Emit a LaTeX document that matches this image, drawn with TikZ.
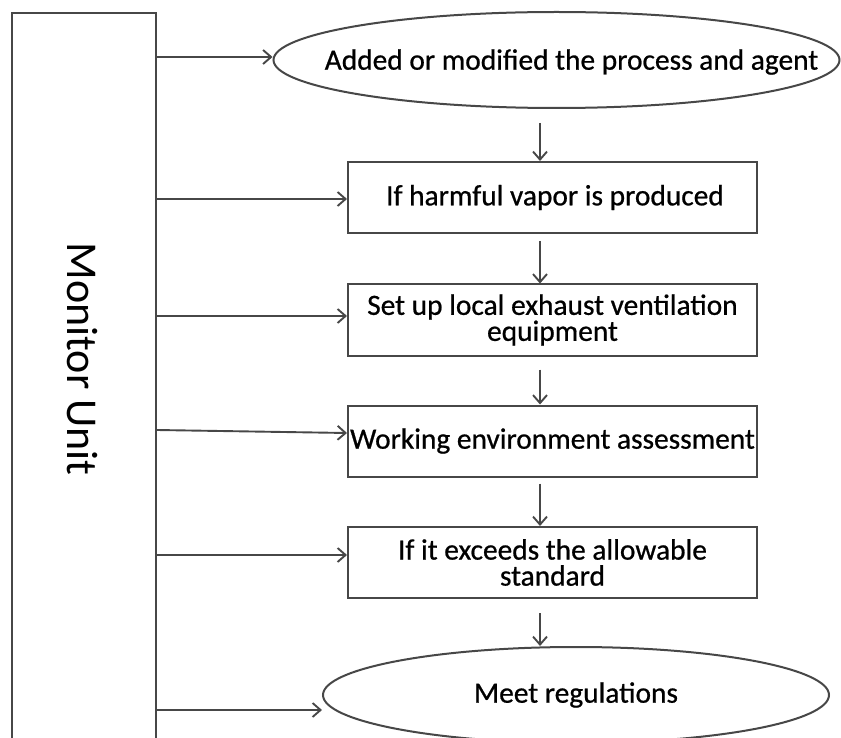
\documentclass[tikz,border=0pt]{standalone}
\usepackage{fontspec}
\setmainfont{Carlito}
\newfontfamily\stepfont{Carlito}[FakeBold=0.7]
\usetikzlibrary{shapes.geometric,arrows.meta,calc}
\begin{document}
\begin{tikzpicture}[x=1pt,y=-1pt,
  line/.style={draw=black!72, line width=2pt},
  flow/.style={draw=black!72, line width=1.9pt,
    -{Straight Barb[length=8pt,width=14pt,line width=1.9pt]}},
  txt/.style={font=\stepfont\fontsize{29.4}{26}\selectfont, align=center},
  stepbox/.style={line, txt, rectangle, minimum width=409pt,
    minimum height=71pt, inner sep=0pt},
  oval/.style={line, ellipse, inner sep=0pt},
]
\useasboundingbox (0,0) rectangle (841,738);
\clip (0,0) rectangle (841,738);

% monitoring column on the left
\node[line, rectangle, minimum width=144pt, minimum height=747pt, inner sep=0pt]
  (mon) at (84,386.5) {};
\node[rotate=-90, font=\fontsize{44}{44}\selectfont] (montext) at (82,359) {Monitor Unit};

% process chain (oval captions are labels so they do not widen the ovals)
\node[oval, minimum width=566pt, minimum height=96pt,
  label={[txt, xshift=15pt, yshift=-2pt]center:Added or modified the process and agent}]
  (e1) at (556.5,60) {};
\node[stepbox] (b2) at (552.5,197.5) {\hspace*{5pt}\raisebox{-3pt}{If harmful vapor is produced}};
\node[stepbox] (b3) at (552.5,320) {Set up local exhaust ventilation\\equipment};
\node[stepbox] (b4) at (552.5,441) {Working environment assessment};
\node[stepbox] (b5) at (552.5,562.5) {If it exceeds the allowable\\standard};
\node[oval, minimum width=506pt, minimum height=96pt,
  label={[txt]center:Meet regulations}]
  (e6) at (576,695) {};

% vertical flow arrows
\coordinate (ax) at ([xshift=-12.5pt]b2.north);
\draw[flow] ($(e1.south -| ax)+(0,14)$) -- (b2.north -| ax);
\draw[flow] ($(b2.south -| ax)+(0,7)$) -- (b3.north -| ax);
\draw[flow] ($(b3.south -| ax)+(0,13)$) -- (b4.north -| ax);
\draw[flow] ($(b4.south -| ax)+(0,6)$) -- (b5.north -| ax);
\draw[flow] ($(b5.south -| ax)+(0,14)$) -- (e6.north -| ax);

% arrows from the monitoring column
\draw[flow] ([yshift=3pt]e1.west -| mon.east) -- ([yshift=3pt]e1.west);
\draw[flow] ([yshift=-1.5pt]b2.west -| mon.east) -- ([yshift=-1.5pt]b2.west);
\draw[flow] ([yshift=4pt]b3.west -| mon.east) -- ([yshift=4pt]b3.west);
\draw[flow] ([yshift=11pt]b4.west -| mon.east) -- ([yshift=8pt]b4.west);
\draw[flow] ([yshift=7.5pt]b5.west -| mon.east) -- ([yshift=7.5pt]b5.west);
\draw[flow] ([yshift=-15pt]e6.west -| mon.east) -- ([yshift=-15pt]e6.west);
\end{tikzpicture}
\end{document}
